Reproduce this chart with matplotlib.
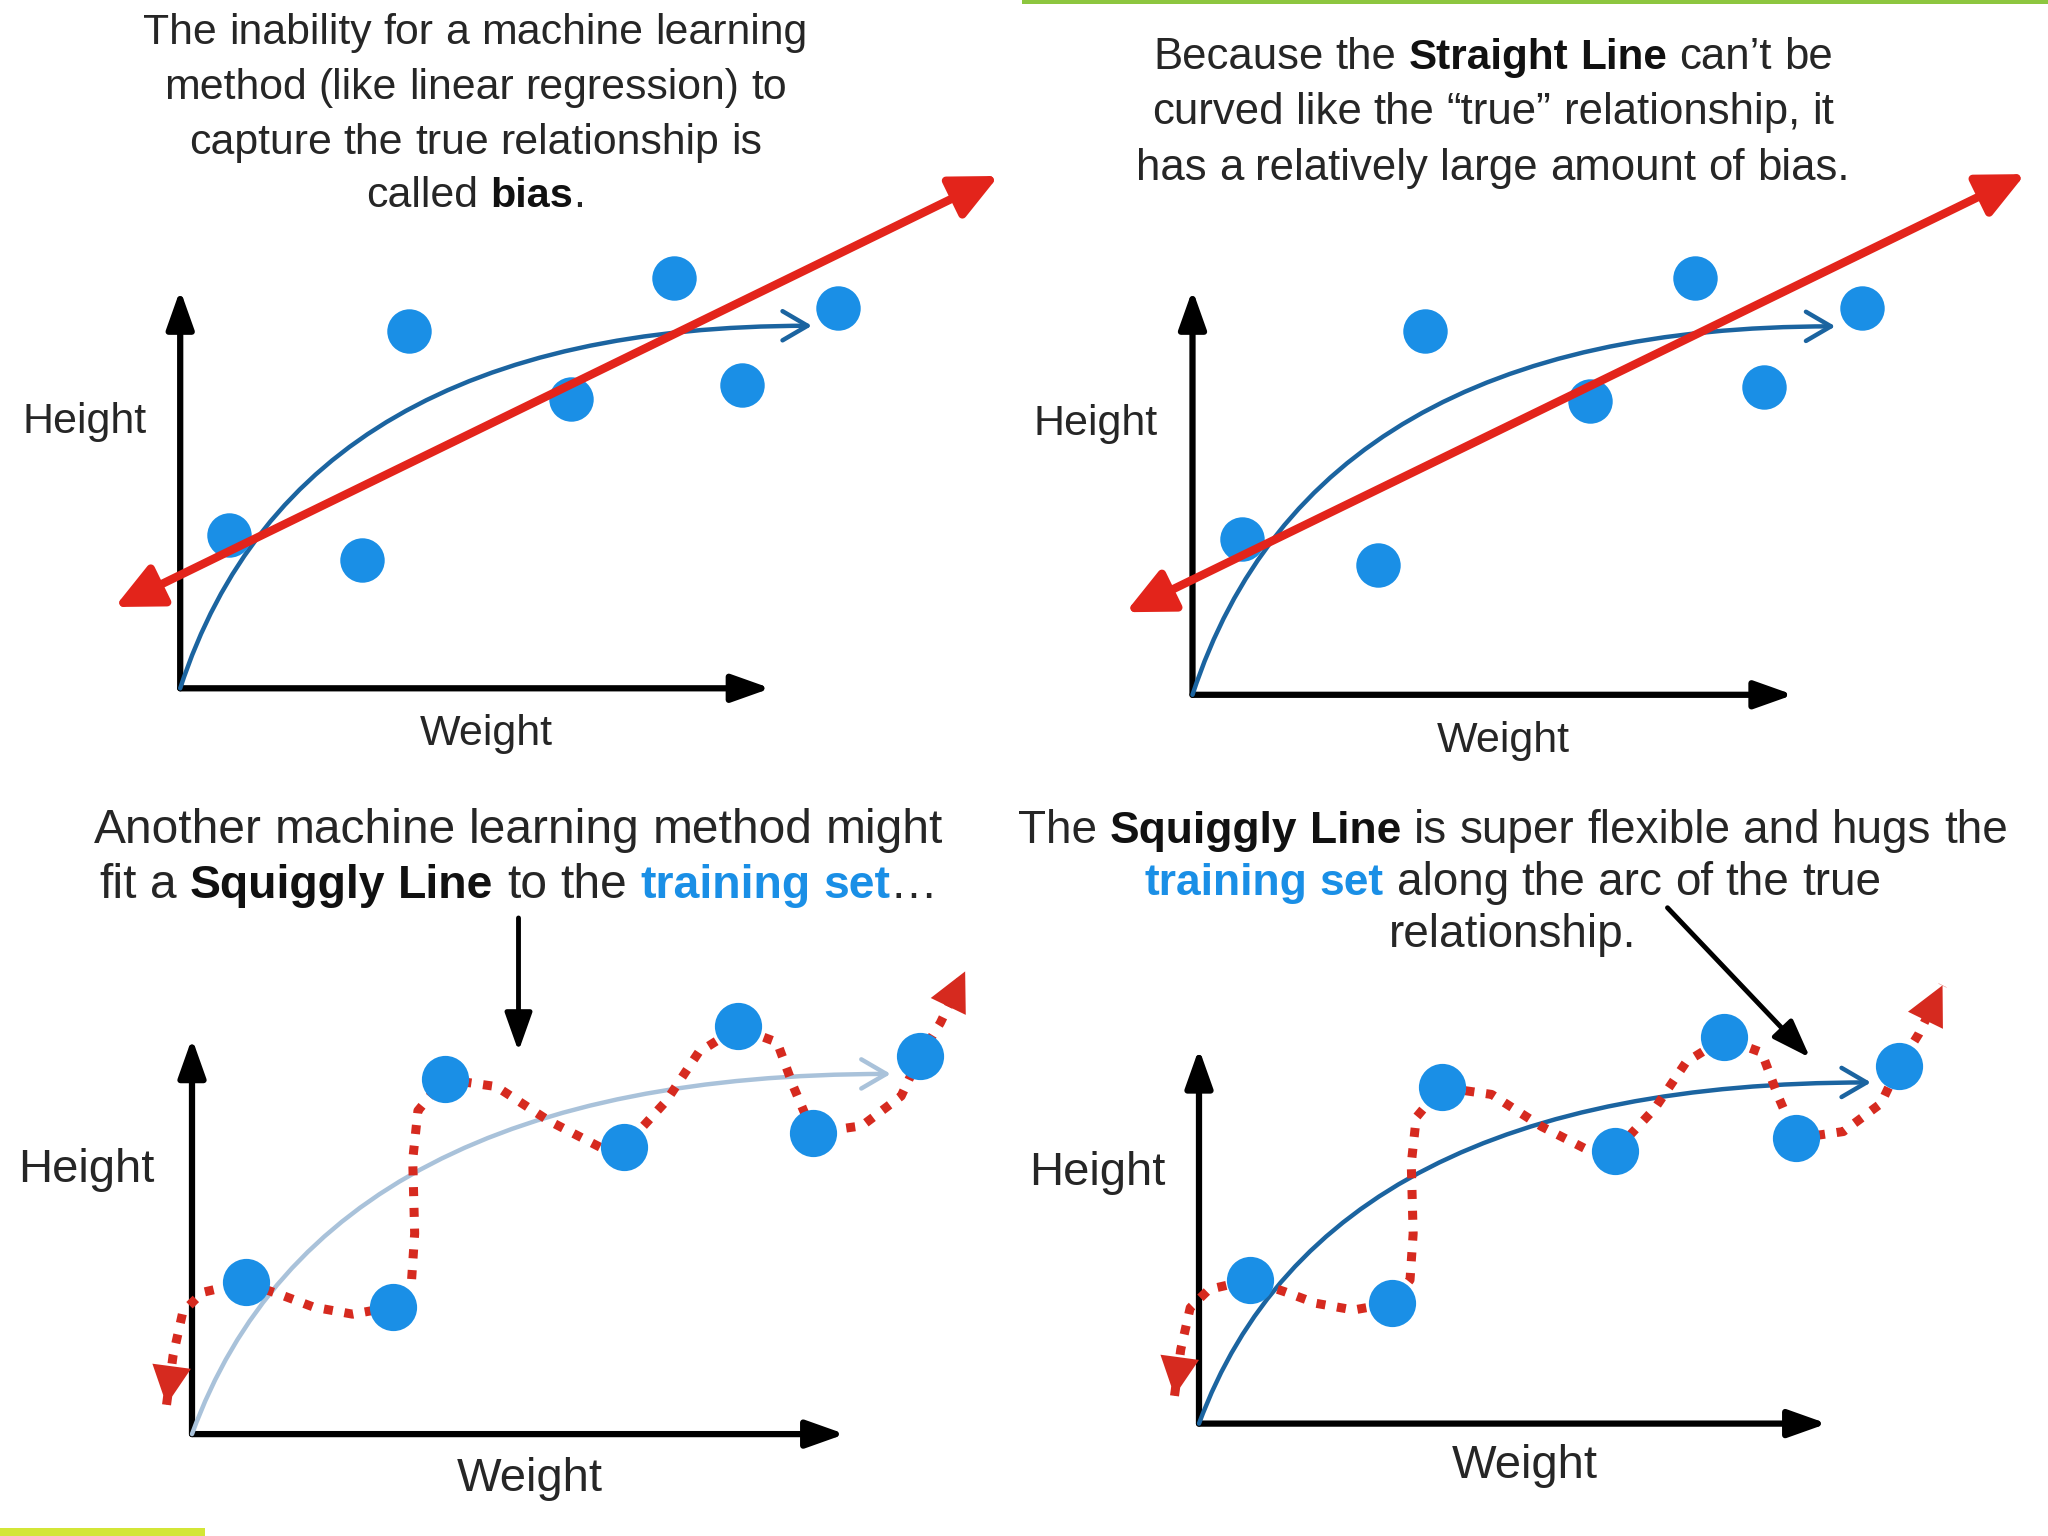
import re
import matplotlib
matplotlib.use('Agg')
import matplotlib.pyplot as plt
from matplotlib.path import Path
from matplotlib.patches import FancyArrowPatch, Rectangle
from matplotlib.transforms import IdentityTransform

plt.rcParams['font.family'] = ['Liberation Sans', 'DejaVu Sans']

W, H = 2048, 1536

# training set, in axis units (axis arrows end at 10)
weight = [0.82, 3.08, 3.87, 6.62, 8.36, 9.51, 11.15]
height = [3.84, 3.21, 8.98, 7.26, 10.30, 7.61, 9.55]

# true relationship (quadratic bezier knots)
true_x = [0.0, 2.0, 10.7]
true_y = [0.0, 9.1, 9.1]

# straight line end points
line_x = [-1.11, 13.86]
line_y = [2.04, 12.86]

# squiggly line, read along the dotted path
squig_x = [-0.39, -0.29, -0.14, 0.16, 0.81, 1.36, 1.86, 2.46, 3.06, 3.36, 3.41,
           3.38, 3.46, 3.86, 4.66, 5.46, 6.26, 6.61, 7.26, 7.76, 8.36, 8.96,
           9.21, 9.51, 10.26, 10.86, 11.14, 11.46, 11.84]
squig_y = [0.74, 1.98, 3.09, 3.58, 3.83, 3.52, 3.21, 3.03, 3.21, 3.83, 5.07,
           6.93, 8.17, 8.97, 8.78, 7.92, 7.24, 7.24, 8.41, 9.65, 10.27, 9.90,
           8.78, 7.61, 7.79, 8.54, 9.53, 10.39, 11.69]

N, B, C = 'normal', 'bold', 'blue'
title1 = [[("The inability for a machine learning", N)],
          [("method (like linear regression) to", N)],
          [("capture the true relationship is", N)],
          [("called ", N), ("bias", B), (".", N)]]
title2 = [[("Because the ", N), ("Straight Line", B), (" can\u2019t be", N)],
          [("curved like the \u201ctrue\u201d relationship, it", N)],
          [("has a relatively large amount of bias.", N)]]
title3 = [[("Another machine learning method might", N)],
          [("fit a ", N), ("Squiggly Line", B), (" to the ", N),
           ("training set", C), ("\u2026", N)]]
title4 = [[("The ", N), ("Squiggly Line", B), (" is super flexible and hugs the", N)],
          [("training set", C), (" along the arc of the true", N)],
          [("relationship.", N)]]

TXT = '#262626'
BOLD = '#111111'
PT_BLUE = '#1a8fe6'
RED = '#e3241b'
SQ_RED = '#d62a1f'
BOLD_SCALE = 0.967

fig = plt.figure(figsize=(W / 100, H / 100), dpi=100)
renderer = fig.canvas.get_renderer()


def panel(origin, scale):
    ox, oy = origin
    sx, sy = scale
    ax = fig.add_axes([0, 0, 1, 1])
    ax.set_xlim(-ox / sx, (W - ox) / sx)
    ax.set_ylim((oy - H) / sy, oy / sy)
    ax.axis('off')
    ax.patch.set_alpha(0)
    return ax


def rich_lines(ax, x, ys, lines, size):
    em = size * 100 / 72
    for y, segs in zip(ys, lines):
        cx, cy = ax.transData.transform((x, y))
        base = cy - 0.36 * em
        items = []
        total = 0
        for text, kind in segs:
            bold = kind in (B, C)
            weight_ = 'bold' if bold else 'normal'
            fs = size * BOLD_SCALE if bold else size
            color = {N: TXT, B: BOLD, C: PT_BLUE}[kind]
            probe1 = ax.text(0, 0, 'a a', fontsize=fs, fontweight=weight_,
                             transform=IdentityTransform())
            probe2 = ax.text(0, 0, 'aa', fontsize=fs, fontweight=weight_,
                             transform=IdentityTransform())
            sp = (probe1.get_window_extent(renderer).width -
                  probe2.get_window_extent(renderer).width)
            probe1.remove()
            probe2.remove()
            for piece in re.split(r'( )', text):
                if piece == '':
                    continue
                if piece == ' ':
                    items.append((None, sp))
                    total += sp
                    continue
                t = ax.text(0, 0, piece, fontsize=fs, fontweight=weight_,
                            color=color, va='baseline', ha='left',
                            transform=IdentityTransform())
                w = t.get_window_extent(renderer).width
                items.append((t, w))
                total += w
        px = cx - total / 2
        for t, w in items:
            if t is not None:
                t.set_position((px, base))
            px += w


def draw_axes(ax, label_size):
    for tip in [(10, 0), (0, 10)]:
        ax.annotate('', xy=tip, xytext=(0, 0),
                    arrowprops=dict(arrowstyle='-|>,head_length=0.9,head_width=0.32',
                                    mutation_scale=26, lw=4.5, color='black',
                                    shrinkA=0, shrinkB=0), zorder=2)
    ax.text(-1.62, 6.68, 'Height', ha='center', va='center', fontsize=label_size, color=TXT)
    ax.text(5.18, -1.14, 'Weight', ha='center', va='center', fontsize=label_size, color=TXT)


def draw_true(ax, color):
    path = Path(list(zip(true_x, true_y)), [Path.MOVETO, Path.CURVE3, Path.CURVE3])
    arr = FancyArrowPatch(path=path, arrowstyle='->,head_length=0.6,head_width=0.35',
                          mutation_scale=30, lw=3.2, color=color, zorder=3)
    ax.add_patch(arr)


def draw_points(ax, ms):
    ax.plot(weight, height, 'o', ms=ms, color=PT_BLUE, mec='none', zorder=5)


def draw_straight(ax):
    ax.annotate('', xy=(line_x[1], line_y[1]), xytext=(line_x[0], line_y[0]),
                arrowprops=dict(arrowstyle='<|-|>,head_length=0.95,head_width=0.45',
                                mutation_scale=30, lw=6, color=RED,
                                shrinkA=0, shrinkB=0), zorder=6)


def draw_squiggle(ax):
    ax.plot(squig_x, squig_y, color=SQ_RED, lw=6.5, dashes=(1, 1.3),
            dash_capstyle='butt', zorder=4)
    for a, b in [(0, 1), (-1, -2)]:
        ax.annotate('', xy=(squig_x[a], squig_y[a]), xytext=(squig_x[b], squig_y[b]),
                    arrowprops=dict(arrowstyle='-|>,head_length=1.0,head_width=0.5',
                                    mutation_scale=28, lw=0, color=SQ_RED,
                                    shrinkA=0, shrinkB=0), zorder=4)


# panel 1
ax1 = panel((180.2, 688.3), (59.04, 39.84))
draw_axes(ax1, 31)
draw_true(ax1, '#1b64a0')
draw_points(ax1, 32)
draw_straight(ax1)
rich_lines(ax1, 5.0, [16.56, 15.18, 13.80, 12.46], title1, 30.8)

# panel 2
ax2 = panel((1192.5, 694.8), (60.08, 40.49))
draw_axes(ax2, 31)
draw_true(ax2, '#1b64a0')
draw_points(ax2, 32)
draw_straight(ax2)
rich_lines(ax2, 5.0, [15.84, 14.48, 13.10], title2, 31.5)

# panel 3
ax3 = panel((192.0, 1434.1), (65.3, 39.58))
draw_axes(ax3, 34)
draw_true(ax3, '#a9c2da')
draw_squiggle(ax3)
draw_points(ax3, 34)
ax3.annotate('', xy=(5.0, 9.67), xytext=(5.0, 13.04),
             arrowprops=dict(arrowstyle='-|>,head_length=0.9,head_width=0.32',
                             mutation_scale=26, lw=3.5, color='black',
                             shrinkA=0, shrinkB=0))
rich_lines(ax3, 5.0, [15.38, 13.99], title3, 34.5)

# panel 4
ax4 = panel((1199.0, 1423.6), (62.8, 37.49))
draw_axes(ax4, 34)
draw_true(ax4, '#1b64a0')
draw_squiggle(ax4)
draw_points(ax4, 34)
ax4.annotate('', xy=(9.73, 9.76), xytext=(7.46, 13.76),
             arrowprops=dict(arrowstyle='-|>,head_length=0.9,head_width=0.32',
                             mutation_scale=26, lw=3.5, color='black',
                             shrinkA=0, shrinkB=0))
rich_lines(ax4, 5.0, [15.92, 14.53, 13.14], title4, 33.0)

# decorative bars
fig.add_artist(Rectangle((1022 / W, 1 - 4 / H), 1 - 1022 / W, 4 / H,
                         transform=fig.transFigure, color='#8dc63f', lw=0))
fig.add_artist(Rectangle((0, 0), 205 / W, 8 / H,
                         transform=fig.transFigure, color='#d3e636', lw=0))

fig.savefig('out.png', dpi=100, facecolor='white')
